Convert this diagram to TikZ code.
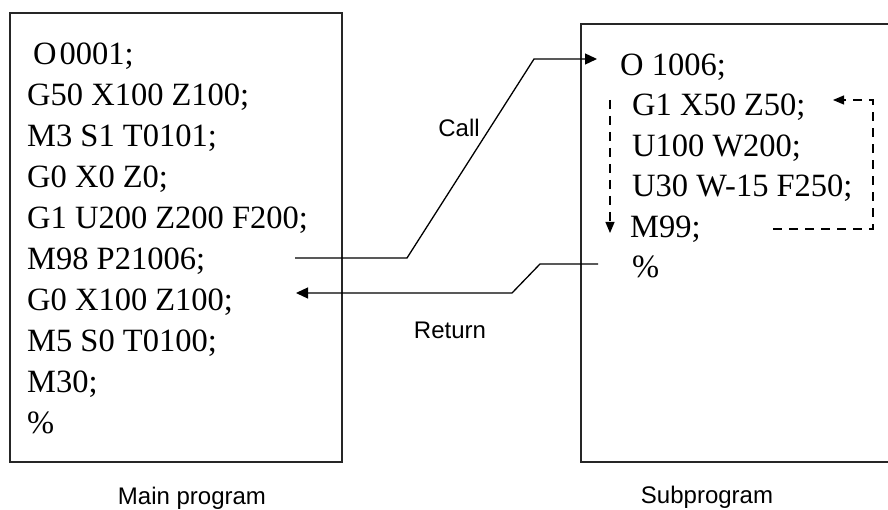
\documentclass[tikz,border=0pt]{standalone}
\usepackage{fontspec}
\setmainfont{Liberation Serif}
\newfontfamily\labelfont{Liberation Sans}
\usetikzlibrary{arrows.meta}
\begin{document}
\begin{tikzpicture}[x=1pt,y=-1pt,
  code/.style={anchor=base west, inner sep=0pt, font=\fontsize{32.5}{39}\selectfont},
  lbl/.style={inner sep=0pt, font=\labelfont\fontsize{24}{28}\selectfont},
  frame/.style={line width=1.8pt, draw=black!85},
  conn/.style={line width=1.3pt, -{Triangle[length=12pt,width=11pt]}},
  loopline/.style={line width=1.1pt, dash pattern=on 9pt off 7pt, -{Triangle[length=11pt,width=9pt]}}]
\clip (0,0) rectangle (888,510);
\fill[white] (0,0) rectangle (888,510);
% frames
\draw[frame] (10,13) rectangle (342,462);
\draw[frame] (900,24) -- (581,24) -- (581,462) -- (900,462);
% main program
\node[code] (m0) at (33,65) {O\kern3pt0001;};
\node[code] (m1) at (27,106) {G50 X100 Z100;};
\node[code] (m2) at (27,147) {M3 S1 T0101;};
\node[code] (m3) at (27,188) {G0 X0 Z0;};
\node[code] (m4) at (27,229) {G1 U200 Z200 F200;};
\node[code] (m5) at (27,269.5) {M98 P21006;};
\node[code] (m6) at (27,310) {G0 X100 Z100;};
\node[code] (m7) at (27,351) {M5 S0 T0100;};
\node[code] (m8) at (27,392) {M30;};
\node[code] (m9) at (27,433) {\%};
% subprogram
\node[code] (s0) at (620,76) {O 1006;};
\node[code] (s1) at (632,116) {G1 X50 Z50;};
\node[code] (s2) at (632,157) {U100 W200;};
\node[code] (s3) at (632,197) {U30 W-15 F250;};
\node[code] (s4) at (630,238) {M99;};
\node[code] (s5) at (632,278) {\%};
% labels
\node[lbl] (call) at (459,128) {Call};
\node[lbl] (ret) at (450,330) {Return};
\node[lbl] (mainlbl) at (192,498) {Main program};
\node[lbl] (sublbl) at (707,497) {Subprogram};
% call connector
\coordinate (c0) at (295,258);
\coordinate (c1) at (407,258);
\coordinate (c2) at (534,59);
\coordinate (c3) at (597,59);
\draw[conn] (c0) -- (c1) -- (c2) -- (c3);
% return connector
\coordinate (r0) at (598,264);
\coordinate (r1) at (540,264);
\coordinate (r2) at (512,293);
\coordinate (r3) at (296,293);
\draw[conn] (r0) -- (r1) -- (r2) -- (r3);
% loop
\coordinate (l0) at (610,100);
\coordinate (l1) at (610,233);
\draw[loopline] (l0) -- (l1);
\coordinate (k0) at (773,229);
\coordinate (k1) at (873,229);
\coordinate (k2) at (873,100);
\coordinate (k3) at (833,100);
\draw[loopline] (k0) -- (k1) -- (k2) -- (k3);
\end{tikzpicture}
\end{document}
